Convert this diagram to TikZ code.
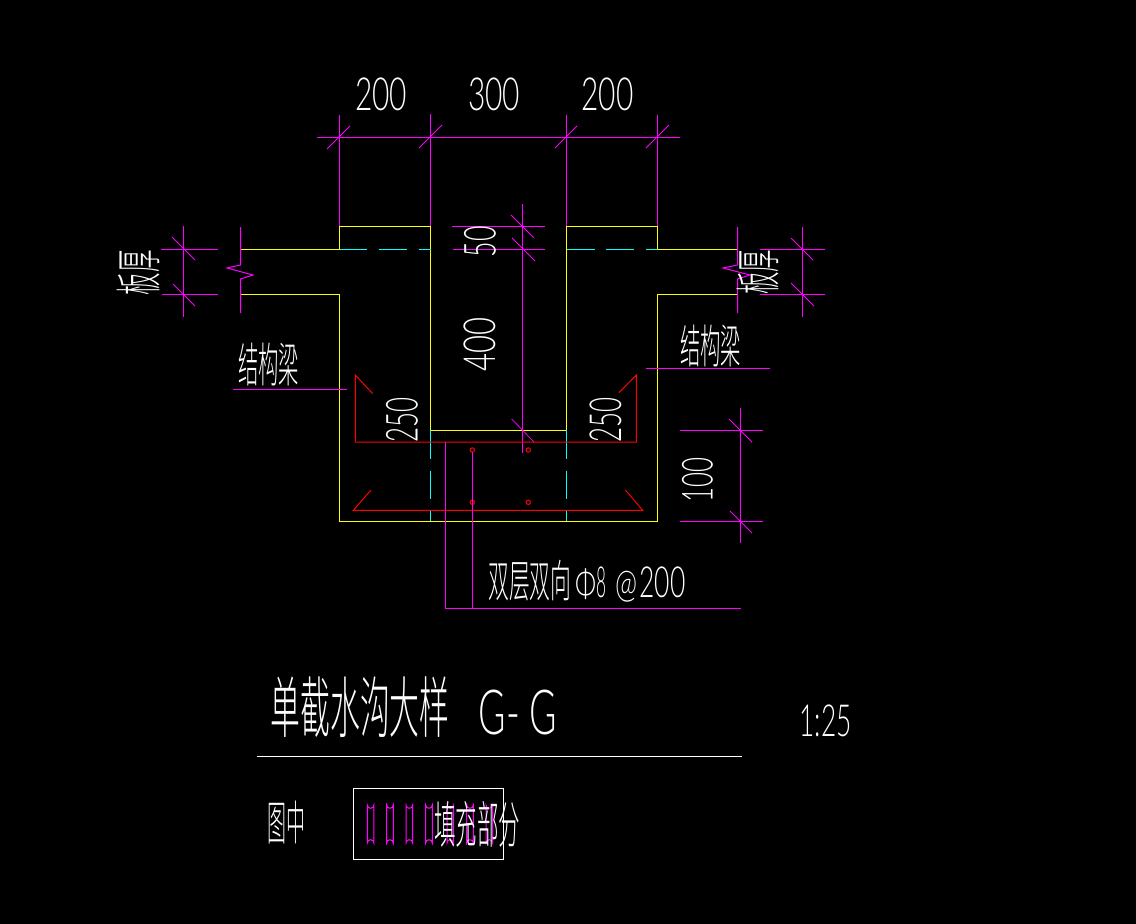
\documentclass[tikz,border=0pt]{standalone}
\usepackage{fontspec}
\usepackage{graphicx}
\newfontfamily\cjk{Noto Sans CJK SC Light}
\newfontfamily\dig{Lato Light}
\newlength\pxu
\setlength\pxu{.75pt}
\newcommand\fitb[3]{\resizebox*{#1\pxu}{#2\pxu}{#3}}
\definecolor{mag}{RGB}{255,0,255}
\definecolor{yel}{RGB}{255,255,0}
\definecolor{cyn}{RGB}{0,255,255}
\definecolor{rd}{RGB}{255,0,0}
\tikzset{
  mline/.style={draw=mag,line width=.75pt},
  tick/.style={draw=mag,line width=.55pt},
  yline/.style={draw=yel,line width=.75pt},
  cline/.style={draw=cyn,line width=.75pt},
  rline/.style={draw=rd,line width=.75pt},
  wline/.style={draw=white,line width=.75pt},
  txt/.style={inner sep=0pt,outer sep=0pt,text=white,anchor=center},
  vtxt/.style={txt,rotate=90},
}
\begin{document}
\begin{tikzpicture}[x=.75pt,y=-.75pt]
\useasboundingbox (0,0) rectangle (1136,924);
\fill[black] (0,0) rectangle (1136,924);
% top dimensions
\draw[mline] (317,137.3) -- (680,137.3);
\draw[mline] (339.5,115) -- (339.5,226) (430.5,114) -- (430.5,226) (566.5,115) -- (566.5,226) (657.5,115) -- (657.5,226);
\draw[tick] (327,149) -- (350,126) (419,148) -- (442,125) (555,148) -- (577,126) (646,148) -- (669,125);
% concrete outline
\draw[yline] (240.5,249.3) -- (339.5,249.3) -- (339.5,226) -- (430.5,226) -- (430.5,430.3) -- (566.5,430.3) -- (566.5,226) -- (657.5,226) -- (657.5,249.3) -- (737.5,249.3);
\draw[yline] (240.5,294.3) -- (339.5,294.3) -- (339.5,521.3) -- (657.5,521.3) -- (657.5,294.3) -- (737.5,294.3);
% cyan hidden lines
\draw[cline] (339.5,249.3) -- (367,249.3) (379,249.3) -- (407,249.3) (419,249.3) -- (430.5,249.3);
\draw[cline] (566.5,249.3) -- (595,249.3) (606,249.3) -- (634,249.3) (646,249.3) -- (657.5,249.3);
\draw[cline] (430.5,430.3) -- (430.5,459) (430.5,471) -- (430.5,499) (430.5,511) -- (430.5,521.3);
\draw[cline] (566.5,430.3) -- (566.5,459) (566.5,471) -- (566.5,499) (566.5,511) -- (566.5,521.3);
% break lines
\draw[mline] (240.5,227) -- (240.5,265) -- (227,268) -- (253,275) -- (240.5,279) -- (240.5,313);
\draw[mline] (737.5,227) -- (737.5,265) -- (723,268) -- (750,275) -- (737.5,279) -- (737.5,313);
% left slab dimension
\draw[mline] (161,249.3) -- (218,249.3) (162,294.3) -- (218,294.3) (183.3,226) -- (183.3,316.7);
\draw[tick] (172,237) -- (195,260) (173,284) -- (195,306);
% right slab dimension
\draw[mline] (760,249.3) -- (825,249.3) (760,294.3) -- (825,294.3) (802.3,227) -- (802.3,317);
\draw[tick] (791,238) -- (813,260) (791,283) -- (814,306);
% centre dimension
\draw[mline] (452,226) -- (545,226) (453,249.3) -- (545,249.3) (522.3,204) -- (522.3,452.7);
\draw[tick] (511,215) -- (534,238) (512,238) -- (535,261) (511.7,419) -- (534,442);
% 100 dimension
\draw[mline] (680,430.3) -- (763,430.3) (680,521.3) -- (763,521.3) (740.3,408) -- (740.3,543);
\draw[tick] (729,419) -- (752,442) (730,511) -- (752,533);
% reinforcement
\draw[rline] (372.7,393.7) -- (355.3,375) -- (355.3,442) -- (636.3,442) -- (636.3,375) -- (619,392.7);
\draw[rline] (371,490) -- (353.3,510.3) -- (642.7,510.3) -- (625.3,490);
\draw[rline] (472.3,450) circle (2.2) (528.3,450) circle (2.2) (472.3,502.3) circle (2.2) (528.3,502.3) circle (2.2);
% leaders
\draw[mline] (445.7,442) -- (445.7,608) -- (741,608);
\draw[mline] (472.3,452) -- (472.3,608);
\draw[mline] (233,389.3) -- (347,389.3);
\draw[mline] (646,368.3) -- (770,368.3);
% title rule, legend
\draw[wline] (257,756.5) -- (742,756.5);
\draw[wline] (353.3,788.3) rectangle (503.3,859.3);
\foreach \sx in {367.3,386.7,406,425.7,447,466.7,486}{
  \draw[mline] (\sx,805) arc[start angle=180,end angle=0,radius=3.3] -- ++(0,38) arc[start angle=0,end angle=-180,radius=3.3] -- cycle;
}
% dimension texts
\node[txt] (d1) at (381,94.5) {\fitb{52}{33}{\dig 200}};
\node[txt] (d2) at (494,94.5) {\fitb{52}{33}{\dig 300}};
\node[txt] (d3) at (607.5,94.5) {\fitb{52}{33}{\dig 200}};
\node[vtxt] (d4) at (480,241.5) {\fitb{31}{32}{\dig 50}};
\node[vtxt] (d5) at (480,344) {\fitb{54}{32}{\dig 400}};
\node[vtxt] (d6) at (402,419.5) {\fitb{45}{32}{\dig 250}};
\node[vtxt] (d7) at (605.5,419.5) {\fitb{45}{32}{\dig 250}};
\node[vtxt] (d8) at (697.5,480) {\fitb{45}{31}{\dig 100}};
% labels
\node[vtxt] (t1) at (138.5,272.5) {\fitb{45}{43}{\cjk 板厚}};
\node[vtxt] (t2) at (757.5,272) {\fitb{45}{42}{\cjk 板厚}};
\node[txt] (t3) at (268.5,364.5) {\fitb{61}{43}{\cjk 结构梁}};
\node[txt] (t4) at (710.5,346) {\fitb{61}{42}{\cjk 结构梁}};
\node[txt] (t5) at (587,581.5) {\fitb{83}{41}{\cjk 双层双向}\hspace{4\pxu}\fitb{21}{31}{\dig Φ}\fitb{10}{31}{\dig 8}\hspace{9\pxu}\fitb{22}{31}{\dig @}\hspace{2\pxu}\fitb{46}{31}{\dig 200}};
\node[txt] (t6) at (360,707) {\fitb{179}{61}{\cjk 单截水沟大样}};
\node[txt] (t7) at (518,712) {\fitb{79}{45}{\dig G- G}};
\node[txt] (t8) at (825.5,721) {\fitb{52}{32}{\dig 1:25}};
\node[txt] (t9) at (286,822.5) {\fitb{38}{43}{\cjk 图中}};
\node[txt] (t10) at (477,824) {\fitb{86}{46}{\cjk 填充部分}};
\end{tikzpicture}
\end{document}
